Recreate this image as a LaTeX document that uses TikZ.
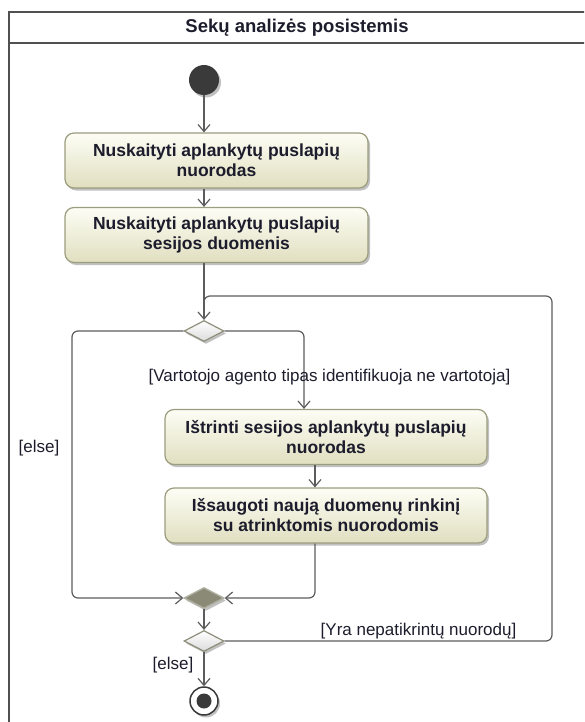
\documentclass[tikz,border=0pt]{standalone}
\usepackage{fontspec}
\setmainfont{Liberation Sans}
\usetikzlibrary{arrows.meta,shapes.geometric,shadows,calc}

\definecolor{framecol}{HTML}{505050}
\definecolor{linecol}{HTML}{5C5C5C}
\definecolor{actborder}{HTML}{9C9C7E}
\definecolor{acttop}{HTML}{FDFDF5}
\definecolor{actbot}{HTML}{E0DFC0}
\definecolor{decborder}{HTML}{8E8E7A}
\definecolor{mergefill}{HTML}{8A8A76}
\definecolor{nodedark}{HTML}{3A3A3A}
\definecolor{txt}{HTML}{1C1C2C}

\tikzset{
  x=1pt, y=-1pt,
  frame/.style={draw=framecol, line width=2pt},
  softshadow/.style={drop shadow={shadow xshift=2pt, shadow yshift=-2.5pt, opacity=0.35, fill=black!70}},
  action/.style={draw=actborder, line width=1.2pt, rounded corners=9pt,
    top color=acttop, bottom color=actbot, minimum width=303pt, minimum height=55pt,
    align=center, inner sep=2pt, text=txt,
    font=\fontsize{17.5}{20}\selectfont\bfseries, softshadow},
  decision/.style={diamond, draw=decborder, line width=1.2pt, top color=white,
    bottom color=black!14, minimum width=40pt, minimum height=21pt, inner sep=0pt, softshadow},
  merge/.style={diamond, draw=decborder!70, line width=1.4pt, fill=mergefill,
    minimum width=40pt, minimum height=21pt, inner sep=0pt, softshadow},
  initial/.style={circle, fill=nodedark, minimum size=30pt, inner sep=0pt, softshadow},
  final/.style={circle, draw=nodedark, line width=1.5pt, fill=white, minimum size=28pt,
    inner sep=0pt, softshadow},
  line/.style={draw=linecol, line width=1.2pt, rounded corners=6pt},
  flow/.style={line, -{Straight Barb[length=7pt,width=12pt,line width=1.2pt]}},
  guard/.style={text=txt, font=\fontsize{17}{20}\selectfont, inner sep=0pt},
  title/.style={text=txt, font=\fontsize{18.5}{20}\selectfont\bfseries, inner sep=0pt},
}

\begin{document}
\begin{tikzpicture}
  \useasboundingbox (0,0) rectangle (584,722);

  % diagram frame with its heading band; it runs past the page edges
  \begin{scope}
    \clip (0,0) rectangle (584,722);
    \draw[frame] (9,12) rectangle (640,780);
    \draw[frame] (9,43) -- (640,43);
  \end{scope}
  \node[title] (title) at (297,28) {Sekų analizės posistemis};

  % nodes
  \node[initial] (init) at (204,80) {};
  \node[action] (b1) at (216.5,160.5) {Nuskaityti aplankytų puslapių\\nuorodas};
  \node[action] (b2) at (216.5,235) {Nuskaityti aplankytų puslapių\\sesijos duomenis};
  \node[decision] (d1) at (204,331) {};
  \node[action, minimum width=322pt] (b3) at (326,437) {Ištrinti sesijos aplankytų puslapių\\nuorodas};
  \node[action, minimum width=322pt] (b4) at (326,515.5) {Išsaugoti naują duomenų rinkinį\\su atrinktomis nuorodomis};
  \node[merge] (mg) at (204,598) {};
  \node[decision] (d2) at (204,641) {};
  \node[final] (fin) at (204,701) {};
  \fill[nodedark] (fin) circle (7.5pt);

  % helper points for the routed connectors
  \coordinate (loopTop) at (552,296);
  \coordinate (leftBot) at (72,598);
  \path (b3.north) ++(-22,0) coordinate (b3in);
  \path (b3.south) ++(-11,0) coordinate (b3out);
  \path (b4.north) ++(-11,0) coordinate (b4in);
  \path (b4.south) ++(-11,0) coordinate (b4out);

  % connectors
  \draw[flow] (init) -- (b1.north -| init);
  \draw[flow] (b1.south -| init) -- (b2.north -| init);
  \draw[flow] (b2.south -| init) -- (d1.north);
  \draw[line] (d2.east) -| (loopTop) -- (loopTop -| d1) -- ($(d1.north)+(0,-20)$);
  \draw[flow] (d1.west) -| (leftBot) -- (mg.west);
  \draw[flow] (d1.east) -| (b3in);
  \draw[flow] (b3out) -- (b4in);
  \draw[flow] (b4out) |- (mg.east);
  \draw[flow] (mg) -- (d2);
  \draw[flow] (d2) -- (fin);

  % guard labels
  \node[guard] (g1) at (329.5,377) {[Vartotojo agento tipas identifikuoja ne vartotoja]};
  \node[guard] (g2) at (39,448) {[else]};
  \node[guard] (g3) at (418.5,631) {[Yra nepatikrintų nuorodų]};
  \node[guard] (g4) at (173,665) {[else]};
\end{tikzpicture}
\end{document}
